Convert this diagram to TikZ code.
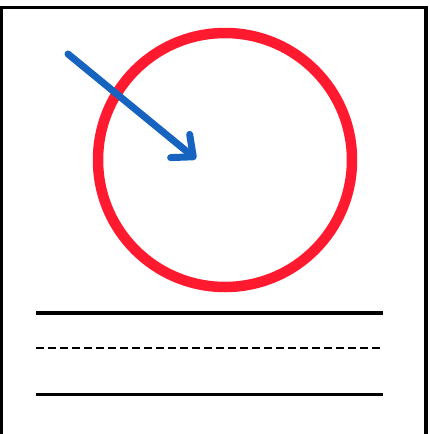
\documentclass[tikz,border=0pt]{standalone}
\usetikzlibrary{arrows.meta}

\definecolor{ringred}{RGB}{255,26,48}
\definecolor{arrowblue}{RGB}{22,100,192}

\tikzset{
  frameline/.style={black, line width=3.2pt},
  ringline/.style={ringred, line width=10.5pt},
  pointer/.style={arrowblue, line width=7pt, line cap=round,
    -{Straight Barb[length=17pt, width=30pt, round]}},
  ruleline/.style={black, line width=3.3pt},
  dashline/.style={black, line width=2.2pt, dash pattern=on 8pt off 4pt},
}

\begin{document}
\begin{tikzpicture}[x=1pt, y=-1pt]
        % Page size
        \useasboundingbox (0,0) rectangle (430,434);
        \clip (0,0) rectangle (430,434);

        % Frame (open at the bottom)
        \coordinate (frameBL) at (1.8,440);
        \coordinate (frameTL) at (1.8,7.5);
        \coordinate (frameTR) at (426,7.5);
        \coordinate (frameBR) at (426,440);
        \draw[frameline] (frameBL) -- (frameTL) -- (frameTR) -- (frameBR);

        % Ring
        \coordinate (ringC) at (225,160);
        \draw[ringline] (ringC) circle[radius=127];

        % Arrow into the ring
        \coordinate (arrowtail) at (68,54);
        \coordinate (arrowtip) at (196,159);
        \draw[pointer] (arrowtail) -- (arrowtip);

        % Text lines
        \coordinate (lineAL) at (36,313);
        \coordinate (lineAR) at (382.5,313);
        \coordinate (lineBL) at (36,348);
        \coordinate (lineBR) at (382.5,348);
        \coordinate (lineCL) at (36,394.5);
        \coordinate (lineCR) at (382.5,394.5);
        \draw[ruleline] (lineAL) -- (lineAR);
        \draw[dashline] (lineBL) -- (lineBR);
        \draw[ruleline] (lineCL) -- (lineCR);
    \end{tikzpicture}
\end{document}
